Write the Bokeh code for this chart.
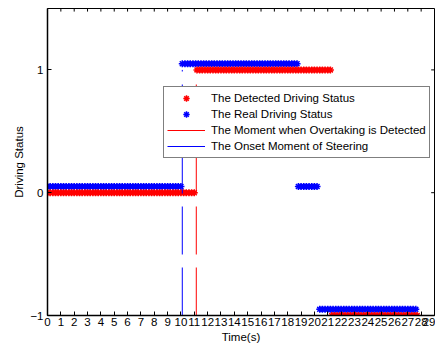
import numpy as np
from bokeh.plotting import figure
from bokeh.models import Range1d, FixedTicker, Legend, LegendItem
from bokeh.embed import file_html
from bokeh.resources import INLINE

# Detected driving status: segments (start s, end s, status)
detected_segments = [(0.0, 11.1, 0), (11.2, 21.2, 1), (21.3, 27.7, -1)]
# Real driving status: segments (start s, end s, status), drawn with a small offset in the original
real_segments = [(0.0, 10.1, 0), (10.1, 18.7, 1), (18.8, 20.3, 0), (20.4, 27.7, -1)]
real_offset = 0.05
sample_step = 0.2

detect_time = [11.15]   # moment overtaking detected
onset_time = [10.1]     # onset moment of steering

x_ticks = list(range(0, 30))
y_ticks = [-1, 0, 1]
X_MIN, X_MAX = 0, 29
Y_MIN, Y_MAX = -1, 1.5


def expand(segments, offset=0.0):
    xs, ys = [], []
    for a, b, v in segments:
        t = np.arange(a, b + 1e-9, sample_step)
        xs.extend(t.tolist())
        ys.extend([v + offset] * len(t))
    return xs, ys


dx, dy = expand(detected_segments)
rx, ry = expand(real_segments, real_offset)

FONT = "Liberation Sans"

p = figure(width=435, height=346, output_backend="svg", toolbar_location=None,
           x_range=Range1d(X_MIN, X_MAX), y_range=Range1d(Y_MIN, Y_MAX),
           min_border_left=47, min_border_right=1, min_border_top=8, min_border_bottom=31)
p.grid.visible = False
p.background_fill_color = "white"
p.border_fill_color = "white"
p.outline_line_color = "black"
p.outline_line_width = 1

r_real = p.scatter(rx, ry, marker="asterisk", size=7, line_color="blue", line_width=1.5)
r_det = p.scatter(dx, dy, marker="asterisk", size=7, line_color="red", line_width=1.5)
r_dl = p.segment(x0=detect_time, x1=detect_time, y0=[-1], y1=[1], line_color="red",
                 line_width=1, line_dash="48 13")
r_ol = p.segment(x0=onset_time, x1=onset_time, y0=[-1], y1=[1], line_color="blue",
                 line_width=1, line_dash="48 13")

# box ticks on the top and right edges (inward)
p.segment(x0=x_ticks, x1=x_ticks, y0=[Y_MAX] * len(x_ticks), y1=[Y_MAX - 0.025] * len(x_ticks),
          line_color="black", line_width=1)
p.segment(x0=[X_MAX] * len(y_ticks), x1=[X_MAX - 0.25] * len(y_ticks), y0=y_ticks, y1=y_ticks,
          line_color="black", line_width=1)

for ax in (p.xaxis, p.yaxis):
    ax.axis_line_color = "black"
    ax.axis_line_width = 1.5
    ax.major_tick_in = 4
    ax.major_tick_out = 0
    ax.minor_tick_line_color = None
    ax.major_tick_line_color = "black"
    ax.major_label_text_font = FONT
    ax.major_label_text_font_size = "11.5px"
    ax.major_label_text_color = "black"
    ax.axis_label_text_font = FONT
    ax.axis_label_text_font_size = "11.5px"
    ax.axis_label_text_font_style = "normal"
    ax.axis_label_text_color = "black"

p.xaxis.ticker = FixedTicker(ticks=x_ticks)
p.yaxis.ticker = FixedTicker(ticks=y_ticks)
p.xaxis.axis_label = "Time(s)"
p.yaxis.axis_label = "Driving Status"
p.xaxis.major_label_standoff = 2
p.xaxis.axis_label_standoff = 2
p.yaxis.major_label_standoff = 4
p.yaxis.axis_label_standoff = 2

legend = Legend(items=[
    LegendItem(label="The Detected Driving Status", renderers=[r_det]),
    LegendItem(label="The Real Driving Status", renderers=[r_real]),
    LegendItem(label="The Moment when Overtaking is Detected", renderers=[r_dl]),
    LegendItem(label="The Onset Moment of Steering", renderers=[r_ol]),
], location=(116, 157))
legend.label_text_font = FONT
legend.label_text_font_size = "11.5px"
legend.label_text_color = "black"
legend.border_line_color = "black"
legend.border_line_width = 1
legend.background_fill_alpha = 1
legend.padding = 3
legend.margin = 0
legend.spacing = 0
legend.glyph_width = 38
legend.glyph_height = 16
legend.label_height = 16
legend.label_standoff = 6
p.add_layout(legend, "center")

open("out.html", "w").write(file_html(p, INLINE))
